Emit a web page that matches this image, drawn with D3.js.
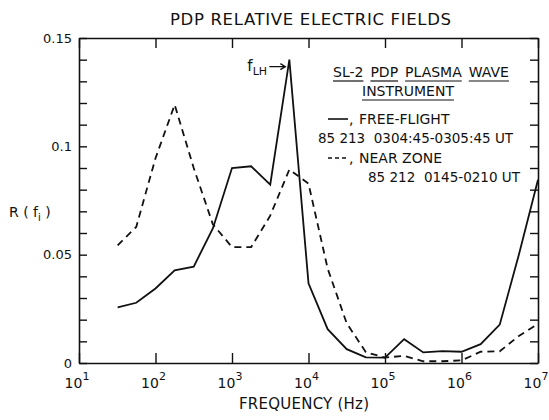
<!DOCTYPE html>
<html>
<head>
<meta charset="utf-8">
<script src="https://cdn.jsdelivr.net/npm/d3@7"></script>
<style>
body { margin: 0; background: #fff; }
svg { display: block; font-family: 'DejaVu Sans', sans-serif; }
</style>
</head>
<body>
<svg id="chart" width="549" height="420"></svg>
<script>
// quarter-decade frequencies (Hz)
const freqs = [32, 56, 100, 178, 316, 562, 1000, 1780, 3160, 5620,
  1e4, 1.78e4, 3.16e4, 5.62e4, 1e5, 1.78e5, 3.16e5, 5.62e5, 1e6, 1.78e6, 3.16e6, 5.62e6, 1e7]

const freeFlight = [0.0257, 0.0278, 0.0344, 0.0428, 0.0445, 0.0621, 0.0900, 0.0908, 0.0823, 0.1400,
  0.0368, 0.0156, 0.0064, 0.0026, 0.0025, 0.0110, 0.0049, 0.0055, 0.0052, 0.0087, 0.0177, 0.0500, 0.0846]

const nearZone = [0.0543, 0.0628, 0.0945, 0.1192, 0.0900, 0.0640, 0.0535, 0.0535, 0.0680, 0.0893,
  0.0828, 0.0436, 0.0183, 0.0050, 0.0025, 0.0033, 0.0008, 0.0008, 0.0012, 0.0052, 0.0054, 0.0125, 0.0180]

const decades = [1, 2, 3, 4, 5, 6, 7]
const yMajor = [0, 0.05, 0.1, 0.15]
const yMajorText = ['0', '0.05', '0.1', '0.15']

const legendTitle = [['SL-2', 'PDP', 'PLASMA', 'WAVE'], ['INSTRUMENT']]
const series = [
  { name: 'FREE-FLIGHT', when: '85 213  0304:45-0305:45 UT', values: freeFlight, dash: null },
  { name: 'NEAR ZONE', when: '85 212  0145-0210 UT', values: nearZone, dash: '7,5' }
]

const svg = d3.select('#chart')
const ink = '#111'

let x = d3.scaleLog().domain([10, 1e7]).range([79, 538])
let y = d3.scaleLinear().domain([0, 0.15]).range([363, 38])

let yMinor = d3.range(0, 0.1501, 0.01)

function styleAxis(g) {
  g.select('.domain').attr('stroke', ink).attr('stroke-width', 1.6)
  g.selectAll('.tick line').attr('stroke', ink).attr('stroke-width', 1.4)
  g.selectAll('.tick text').attr('fill', ink).attr('font-size', 13)
    .attr('font-family', "'DejaVu Sans', sans-serif")
}

// frame + ticks
svg.append('g')
  .attr('transform', 'translate(0,' + y(0) + ')')
  .call(d3.axisBottom(x).tickValues(decades.map(e => 10 ** e)).tickSizeInner(-10).tickSizeOuter(0).tickFormat(''))
  .call(styleAxis)
svg.append('g')
  .attr('transform', 'translate(0,' + y(0.15) + ')')
  .call(d3.axisTop(x).tickValues(decades.map(e => 10 ** e)).tickSizeInner(-10).tickSizeOuter(0).tickFormat(''))
  .call(styleAxis)
svg.append('g')
  .attr('transform', 'translate(' + x(10) + ',0)')
  .call(d3.axisLeft(y).tickValues(yMinor).tickSizeInner(-8).tickSizeOuter(0).tickPadding(7)
    .tickFormat(d => {
      let i = yMajor.findIndex(v => Math.abs(v - d) < 1e-6)
      return i < 0 ? '' : yMajorText[i]
    }))
  .call(styleAxis)
svg.append('g')
  .attr('transform', 'translate(' + x(1e7) + ',0)')
  .call(d3.axisRight(y).tickValues(yMinor).tickSizeInner(-8).tickSizeOuter(0).tickFormat(''))
  .call(styleAxis)

// x tick labels 10^n
let xl = svg.append('g').attr('fill', ink)
decades.forEach(function(e) {
  let t = xl.append('text')
    .attr('x', x(10 ** e) - 2)
    .attr('y', 388)
    .attr('text-anchor', 'middle')
    .attr('font-size', 14)
  t.append('tspan').text('10')
  t.append('tspan').attr('dy', -8).attr('font-size', 11).text(e)
})

// titles
svg.append('text')
  .attr('x', 170).attr('y', 25)
  .attr('font-size', 16.5)
  .attr('textLength', 281)
  .attr('lengthAdjust', 'spacing')
  .attr('fill', ink)
  .text('PDP RELATIVE ELECTRIC FIELDS')

svg.append('text')
  .attr('x', 239).attr('y', 409)
  .attr('font-size', 15)
  .attr('textLength', 130)
  .attr('lengthAdjust', 'spacing')
  .attr('fill', ink)
  .text('FREQUENCY (Hz)')

let rl = svg.append('text')
  .attr('x', 9).attr('y', 217)
  .attr('font-size', 14)
  .attr('fill', ink)
rl.append('tspan').text('R ( f')
rl.append('tspan').attr('dy', 4).attr('font-size', 10).text('i')
rl.append('tspan').attr('dy', -4).text(' )')

// data lines
let line = d3.line()
  .x((d, i) => x(freqs[i]))
  .y(d => y(d))

svg.selectAll('path.series')
  .data(series)
  .join('path')
  .attr('class', 'series')
  .attr('d', d => line(d.values))
  .attr('fill', 'none')
  .attr('stroke', ink)
  .attr('stroke-width', 1.8)
  .attr('stroke-dasharray', d => d.dash)

// f_LH marker pointing at the free-flight peak
let peak = freeFlight.indexOf(d3.max(freeFlight))
let px = x(freqs[peak]), py = y(freeFlight[peak])
let fl = svg.append('text')
  .attr('x', px - 42).attr('y', py + 11)
  .attr('font-size', 15)
  .attr('fill', ink)
fl.append('tspan').text('f')
fl.append('tspan').attr('dy', 4).attr('font-size', 11).text('LH')
svg.append('path')
  .attr('d', 'M' + (px - 20) + ',' + (py + 7) + 'H' + (px - 4)
    + 'M' + (px - 9) + ',' + (py + 4) + 'L' + (px - 4) + ',' + (py + 7) + 'L' + (px - 9) + ',' + (py + 10))
  .attr('fill', 'none')
  .attr('stroke', ink)
  .attr('stroke-width', 1.3)

// legend
let lg = svg.append('g').attr('fill', ink).attr('font-size', 14)
let rowsY = [77, 96]
let rowsX = [333, 362]
legendTitle.forEach(function(words, r) {
  let cx = rowsX[r]
  words.forEach(function(w) {
    let t = lg.append('text').attr('x', cx).attr('y', rowsY[r]).text(w)
    let len = t.node().getComputedTextLength()
    lg.append('line')
      .attr('x1', cx).attr('x2', cx + len)
      .attr('y1', rowsY[r] + 4).attr('y2', rowsY[r] + 4)
      .attr('stroke', ink).attr('stroke-width', 1.2)
    cx += len + 7
  })
})

let entryY = [124, 163]
let whenX = [318, 368]
let whenW = [195, 152]
series.forEach(function(s, i) {
  lg.append('line')
    .attr('x1', 328).attr('x2', 348)
    .attr('y1', entryY[i] - 5).attr('y2', entryY[i] - 5)
    .attr('stroke', ink).attr('stroke-width', 1.6)
    .attr('stroke-dasharray', s.dash ? '4,3' : null)
  lg.append('text').attr('x', 349).attr('y', entryY[i]).text(',')
  lg.append('text').attr('x', 359).attr('y', entryY[i]).text(s.name)
  lg.append('text')
    .attr('x', whenX[i]).attr('y', entryY[i] + 19)
    .attr('textLength', whenW[i])
    .attr('lengthAdjust', 'spacingAndGlyphs')
    .style('white-space', 'pre')
    .text(s.when)
})
</script>
</body>
</html>
